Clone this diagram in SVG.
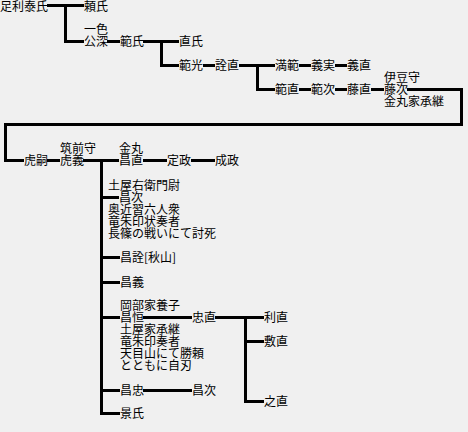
<svg xmlns="http://www.w3.org/2000/svg" width="468" height="432" viewBox="0 0 468 432">
<style>
text{font-family:"Noto Sans CJK JP","Noto Sans CJK SC",sans-serif;font-size:12px;fill:#000}
.c path{fill:none;stroke:#000;stroke-width:3;shape-rendering:crispEdges}
</style>
<rect width="468" height="432" fill="#f0f0f0"/>
<g class="c" id="connectors">
<path d="M47,5H84M65,5V41H84"/>
<path d="M107,41H120"/>
<path d="M143,41H179M161,41V65H179"/>
<path d="M203,65H215"/>
<path d="M239,65H275M257,65V89H275"/>
<path d="M299,65H311M335,65H347"/>
<path d="M299,89H311M335,89H347M371,89H384"/>
<path d="M407,89H461V124H5V160H24"/>
<path d="M47,160H60"/>
<path d="M83,160H119M101,160V413H120M101,197H119M101,257H120M101,282H120M101,317H120M101,390H120"/>
<path d="M143,160H167M191,160H215"/>
<path d="M143,317H192M215,317H264M245,317V401H264M245,341H264"/>
<path d="M143,390H192"/>
</g>
<g id="n1"><text x="0" y="11">足利泰氏</text></g>
<g id="n2"><text x="84" y="11">頼氏</text></g>
<g id="n3"><text x="84" y="34">一色</text><text x="84" y="46">公深</text></g>
<g id="n4"><text x="120" y="46">範氏</text></g>
<g id="n5"><text x="179" y="46">直氏</text></g>
<g id="n6"><text x="179" y="70">範光</text></g>
<g id="n7"><text x="215" y="70">詮直</text></g>
<g id="n8"><text x="275" y="70">満範</text></g>
<g id="n9"><text x="311" y="70">義実</text></g>
<g id="n10"><text x="347" y="70">義直</text></g>
<g id="n11"><text x="275" y="94">範直</text></g>
<g id="n12"><text x="311" y="94">範次</text></g>
<g id="n13"><text x="347" y="94">藤直</text></g>
<g id="n14"><text x="384" y="82">伊豆守</text><text x="384" y="94">藤次</text><text x="384" y="106">金丸家承継</text></g>
<g id="n15"><text x="24" y="165">虎嗣</text></g>
<g id="n16"><text x="60" y="153">筑前守</text><text x="60" y="165">虎義</text></g>
<g id="n17"><text x="119" y="153">金丸</text><text x="119" y="165">昌直</text></g>
<g id="n18"><text x="167" y="165">定政</text></g>
<g id="n19"><text x="215" y="165">成政</text></g>
<g id="n20"><text x="108" y="190">土屋右衛門尉</text><text x="119" y="202">昌次</text><text x="108" y="214">奥近習六人衆</text><text x="108" y="226">竜朱印状奏者</text><text x="108" y="238">長篠の戦いにて討死</text></g>
<g id="n21"><text x="120" y="262">昌詮[秋山]</text></g>
<g id="n22"><text x="120" y="287">昌義</text></g>
<g id="n23"><text x="120" y="310">岡部家養子</text><text x="120" y="322">昌恒</text><text x="120" y="334">土屋家承継</text><text x="120" y="346">竜朱印奏者</text><text x="120" y="358">天目山にて勝頼</text><text x="120" y="370">とともに自刃</text></g>
<g id="n24"><text x="192" y="322">忠直</text></g>
<g id="n25"><text x="264" y="322">利直</text></g>
<g id="n26"><text x="264" y="346">敷直</text></g>
<g id="n27"><text x="264" y="406">之直</text></g>
<g id="n28"><text x="120" y="395">昌忠</text></g>
<g id="n29"><text x="192" y="395">昌次</text></g>
<g id="n30"><text x="120" y="418">景氏</text></g>
</svg>
